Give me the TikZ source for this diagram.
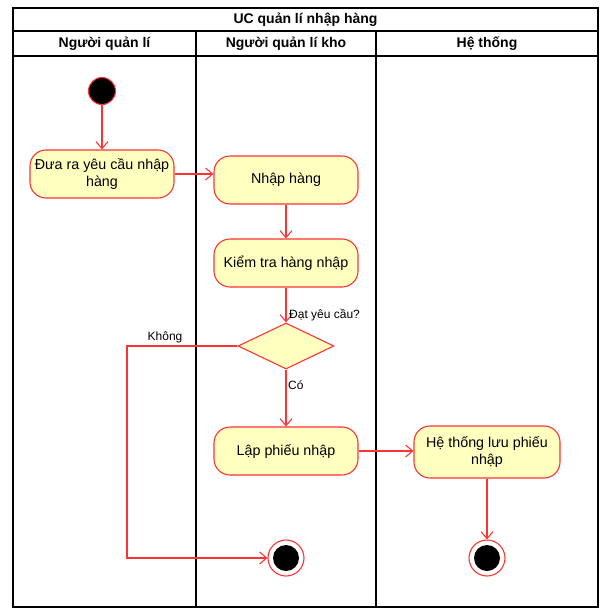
\documentclass[tikz,border=0pt]{standalone}
\usepackage{fontspec}
\setmainfont{Liberation Sans}
\usetikzlibrary{arrows.meta,shapes.geometric}
\definecolor{lred}{HTML}{FF3333}
\definecolor{lfill}{HTML}{FFFFC0}
\begin{document}
\begin{tikzpicture}[x=1pt,y=-1pt,
  lane/.style={draw=black,line width=1.4pt},
  hdr/.style={font=\fontsize{14}{16}\selectfont\bfseries,inner sep=0pt},
  act/.style={draw=lred,fill=lfill,line width=1.1pt,rounded corners=16pt,minimum width=144pt,minimum height=48pt,align=center,font=\fontsize{14.3}{17}\selectfont,inner sep=1pt},
  dec/.style={diamond,draw=lred,fill=lfill,line width=1.1pt,minimum width=96pt,minimum height=46pt,aspect=2.09,inner sep=0pt},
  startn/.style={circle,draw=lred,fill=black,line width=1.1pt,minimum size=27pt,inner sep=0pt},
  endo/.style={circle,draw=lred,fill=white,line width=1.1pt,minimum size=36pt,inner sep=0pt},
  endi/.style={circle,fill=black,minimum size=26pt,inner sep=0pt},
  flow/.style={draw=lred,line width=1.1pt,-{Straight Barb[length=7pt,width=12pt,line width=1.1pt]}},
  lbl/.style={font=\fontsize{12}{14}\selectfont,inner sep=0pt}]
\useasboundingbox (0,0) rectangle (607,616);
% swimlanes
\draw[lane] (13,8) rectangle (598,607);
\draw[lane] (13,31) -- (598,31);
\draw[lane] (13,56) -- (598,56);
\draw[lane] (196,31) -- (196,607);
\draw[lane] (376,31) -- (376,607);
\node[hdr] (title) at (305.5,19.5) {UC quản lí nhập hàng};
\node[hdr] (h1) at (104.5,43.5) {Người quản lí};
\node[hdr] (h2) at (286,43.5) {Người quản lí kho};
\node[hdr] (h3) at (487,43.5) {Hệ thống};
% nodes
\node[startn] (start) at (102,91) {};
\node[act] (a1) at (102,174) {Đưa ra yêu cầu nhập\\hàng};
\node[act] (a2) at (286,180) {Nhập hàng};
\node[act] (a3) at (286,263) {Kiểm tra hàng nhập};
\node[dec] (d) at (286,346) {};
\node[act] (a4) at (286,451) {Lập phiếu nhập};
\node[act,minimum width=146pt,minimum height=52pt] (a5) at (487,452) {Hệ thống lưu phiếu\\nhập};
\node[endo] (e1) at (286,558) {};
\node[endi] at (e1) {};
\node[endo] (e2) at (487,558) {};
\node[endi] at (e2) {};
\coordinate (k1) at (127,346);
\coordinate (k2) at (127,558);
% flows
\draw[flow] (start) -- (a1);
\draw[flow] (a1.east) -- (a2.west |- a1.east);
\draw[flow] (a2) -- (a3);
\draw[flow] (a3) -- (d);
\node[lbl,anchor=west] (l1) at (289,315) {Đạt yêu cầu?};
\draw[flow] (d) -- (a4);
\node[lbl,anchor=west] (l2) at (288,385) {Có};
\draw[flow] (d.west) -- (k1) -- (k2) -- (e1.west);
\node[lbl] (l3) at (165,337) {Không};
\draw[flow] (a4.east) -- (a5.west |- a4.east);
\draw[flow] (a5) -- (e2);
\end{tikzpicture}
\end{document}
